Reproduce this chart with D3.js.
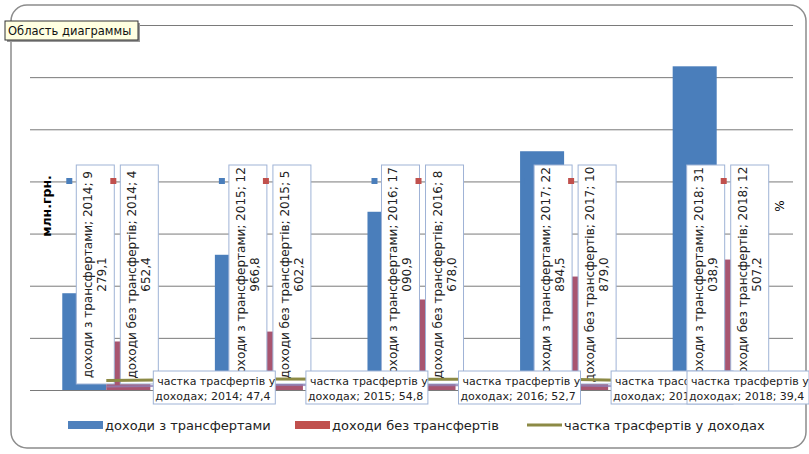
<!DOCTYPE html>
<html>
<head>
<meta charset="utf-8">
<script src="https://cdn.jsdelivr.net/npm/d3@7"></script>
<style>
  body { margin: 0; background: #fff; }
  svg { display: block; font-family: "DejaVu Sans", sans-serif; }
</style>
</head>
<body>
<div id="viz"></div>
<script>
// data
var years = ["2014", "2015", "2016", "2017", "2018"];
var withTransfers = [9279.1, 12966.8, 17090.9, 22894.5, 31038.9];
var withoutTransfers = [4652.4, 5602.2, 8678.0, 10879.0, 12507.2];
var transferShare = [47.4, 54.8, 52.7, 52.5, 39.4];
var yGrid = [0, 5000, 10000, 15000, 20000, 25000, 30000, 35000];
var seriesNames = ["доходи з трансфертами", "доходи без трансфертів", "частка трасфертів у доходах"];
var legendNames = ["доходи  з трансфертами", "доходи  без трансфертів", "частка трасфертів  у доходах"];

var width = 809, height = 454;
var blue = "#4a7ebb", red = "#c0504d", redBar = "#a85570", olive = "#8c8a45";

var locale = d3.formatLocale({decimal: ",", thousands: " ", grouping: [3]});
var fmt = locale.format(",.1f");

var svg = d3.select("#viz").append("svg")
  .attr("width", width)
  .attr("height", height);

// chart area frame
svg.append("rect")
  .attr("x", 11).attr("y", 5)
  .attr("width", 795).attr("height", 443)
  .attr("rx", 16)
  .attr("fill", "#fff")
  .attr("stroke", "#8c8c8c")
  .attr("stroke-width", 1.5);

var x = d3.scaleBand()
  .domain(years)
  .range([30, 793])
  .paddingInner(0.423)
  .paddingOuter(0.2115);

var xSub = d3.scaleBand()
  .domain([0, 1])
  .range([0, x.bandwidth()]);

var y = d3.scaleLinear().domain([0, 35000]).range([390, 25]);
var y2 = d3.scaleLinear().domain([0, 1800]).range([390, 25]);

// gridlines (axis without labels)
var yAxis = d3.axisLeft(y).tickValues(yGrid).tickSize(-(793 - 30)).tickFormat("");
var gy = svg.append("g")
  .attr("transform", "translate(30,0)")
  .call(yAxis);
gy.select(".domain").remove();
gy.selectAll(".tick line").attr("stroke", "#7a7a7a").attr("stroke-width", 1);

// bars
var rows = years.map(function(yr, i){
  return {year: yr, vals: [withTransfers[i], withoutTransfers[i]], share: transferShare[i]};
});

var groups = svg.selectAll(".grp")
  .data(rows)
  .enter().append("g")
  .attr("class", "grp")
  .attr("transform", function(d){ return "translate(" + x(d.year) + ",0)"; });

groups.selectAll("rect")
  .data(function(d){ return d.vals; })
  .enter().append("rect")
  .attr("x", function(d, i){ return xSub(i); })
  .attr("width", xSub.bandwidth())
  .attr("y", function(d){ return y(d); })
  .attr("height", function(d){ return y(0) - y(d); })
  .attr("fill", function(d, i){ return i === 0 ? blue : redBar; });

// bar data labels (rotated boxes)
var boxW = 38, boxTop = 165, boxBottom = 384;
groups.each(function(d){
  var g = d3.select(this);
  d.vals.forEach(function(v, i){
    var full = seriesNames[i] + "; " + d.year + "; " + fmt(v);
    var cut = full.lastIndexOf(" ");
    var lines = [full.slice(0, cut), full.slice(cut + 1)];
    var cx = xSub(i) + xSub.bandwidth() / 2 + 11;
    var left = cx - boxW / 2;
    g.append("rect")
      .attr("x", left).attr("y", boxTop)
      .attr("width", boxW).attr("height", boxBottom - boxTop)
      .attr("fill", "#fff")
      .attr("stroke", "#9fb3d6")
      .attr("stroke-width", 1);
    g.append("rect")
      .attr("x", left - 10).attr("y", boxTop + 13)
      .attr("width", 6).attr("height", 6)
      .attr("fill", i === 0 ? blue : red);
    var cy = (boxTop + boxBottom) / 2;
    var t = g.append("text")
      .attr("transform", "translate(" + cx + "," + cy + ") rotate(-90)")
      .attr("text-anchor", "middle")
      .attr("font-size", 12)
      .attr("fill", "#222");
    t.append("tspan").attr("x", 0).attr("y", -3).text(lines[0]);
    t.append("tspan").attr("x", 0).attr("y", 11).text(lines[1]);
  });
});

// share line (secondary axis, no labels)
var line = d3.line()
  .x(function(d){ return x(d.year) + x.bandwidth() / 2; })
  .y(function(d){ return y2(d.share); });

svg.append("path")
  .datum(rows)
  .attr("d", line)
  .attr("transform", "translate(0,6)")
  .attr("fill", "none")
  .attr("stroke", "#8f7fb5")
  .attr("stroke-width", 2)
  .attr("opacity", 0.8);

svg.append("path")
  .datum(rows)
  .attr("d", line)
  .attr("fill", "none")
  .attr("stroke", olive)
  .attr("stroke-width", 3);

// line data labels; last one pushed left by the frame, covering the one before
var lbW = 122;
var lbLeft = rows.map(function(d){
  return Math.min(x(d.year) + x.bandwidth() / 2 + 47, 809 - lbW);
});
var defs = svg.append("defs");
rows.forEach(function(d, i){
  var left = lbLeft[i];
  var right = (i < rows.length - 1) ? Math.min(left + lbW, lbLeft[i + 1]) : left + lbW;
  defs.append("clipPath").attr("id", "lbclip" + i)
    .append("rect")
    .attr("x", left).attr("y", 370)
    .attr("width", right - left).attr("height", 36);
  var g = svg.append("g");
  g.append("rect")
    .attr("x", left).attr("y", 371)
    .attr("width", lbW).attr("height", 33)
    .attr("fill", "#fff")
    .attr("stroke", "#9fb3d6");
  var t = g.append("text")
    .attr("clip-path", "url(#lbclip" + i + ")")
    .attr("font-size", 11)
    .attr("fill", "#222");
  t.append("tspan").attr("x", left + 4).attr("y", 385).text("частка трасфертів у");
  t.append("tspan").attr("x", left + 2).attr("y", 400)
    .text("доходах; " + d.year + "; " + fmt(d.share));
});

// axis titles
svg.append("text")
  .attr("transform", "translate(51,206) rotate(-90)")
  .attr("text-anchor", "middle")
  .attr("font-size", 12.5)
  .attr("font-weight", "bold")
  .text("млн.грн.");

svg.append("text")
  .attr("transform", "translate(784,206) rotate(-90)")
  .attr("text-anchor", "middle")
  .attr("font-size", 12)
  .text("%");

// legend
var legend = svg.append("g").attr("transform", "translate(0,425)");
var legX = [68, 295, 527];
legendNames.forEach(function(name, i){
  var g = legend.append("g").attr("transform", "translate(" + legX[i] + ",0)");
  if (i < 2) {
    g.append("rect")
      .attr("x", 0).attr("y", -4)
      .attr("width", 35).attr("height", 8)
      .attr("fill", i === 0 ? "#4f81bd" : red);
  } else {
    g.append("line")
      .attr("x1", 0).attr("x2", 35)
      .attr("y1", 0).attr("y2", 0)
      .attr("stroke", olive)
      .attr("stroke-width", 3);
  }
  g.append("text")
    .attr("x", 37).attr("y", 5)
    .attr("font-size", 13)
    .attr("fill", "#222")
    .text(name);
});

// tooltip
var tip = svg.append("g");
tip.append("rect")
  .attr("x", 7).attr("y", 23)
  .attr("width", 133).attr("height", 19)
  .attr("fill", "#999");
tip.append("rect")
  .attr("x", 5).attr("y", 21)
  .attr("width", 133).attr("height", 19)
  .attr("fill", "#ffffe1")
  .attr("stroke", "#333");
tip.append("text")
  .attr("x", 8).attr("y", 35)
  .attr("font-size", 11.5)
  .attr("fill", "#111")
  .text("Область диаграммы");
</script>
</body>
</html>
